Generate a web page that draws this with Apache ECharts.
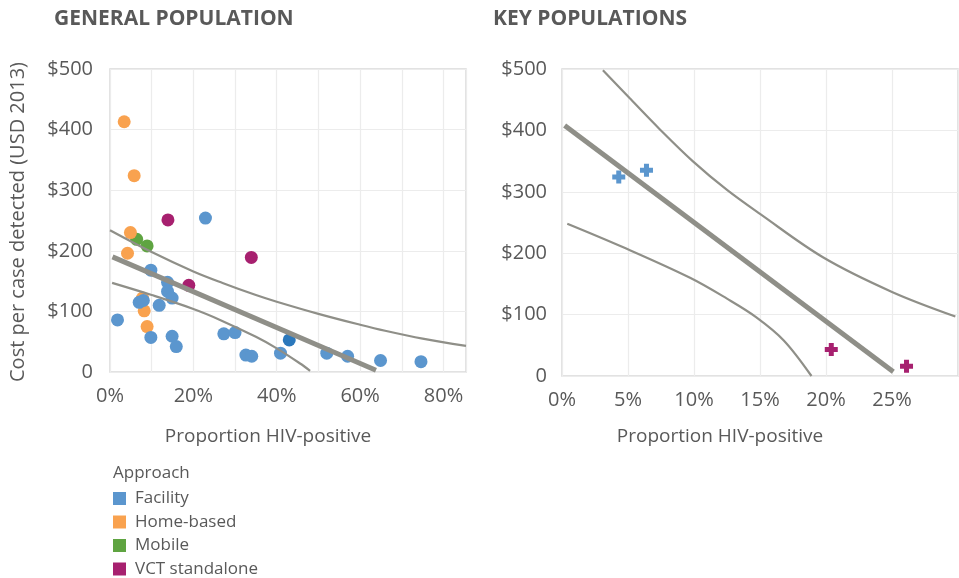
<!DOCTYPE html>
<html>
<head>
<meta charset="utf-8">
<script src="https://cdn.jsdelivr.net/npm/echarts@6/dist/echarts.min.js"></script>
<style>
html,body{margin:0;padding:0;background:#fff;}
#chart{width:959px;height:578px;}
</style>
</head>
<body>
<div id="chart"></div>
<script>
// ---------- DATA ----------
const legendNames = ['Facility', 'Home-based', 'Mobile', 'VCT standalone'];

// General population (x = % HIV-positive, y = cost USD 2013)
const genFacilityX = [1.8, 7.0, 8.0, 9.8, 11.8, 13.8, 13.8, 14.9, 9.8, 14.9, 15.9, 22.9, 27.3, 30.0, 32.6, 34.0, 40.9, 52.0, 57.0, 64.9, 74.6];
const genFacilityY = [86, 115, 118, 168, 110, 148, 133, 122, 57, 59, 42, 254, 63, 65, 28, 26, 31, 31, 26, 19, 17];
const genFacilityDarkX = [43.0];
const genFacilityDarkY = [53];
const genHomeX = [3.4, 5.8, 4.9, 4.2, 7.8, 8.2, 8.9];
const genHomeY = [413, 324, 230, 196, 122, 101, 75];
const genMobileX = [6.4, 8.9];
const genMobileY = [219, 208];
const genVctX = [13.9, 33.9, 18.9];
const genVctY = [251, 189, 143];

// General population trend line and confidence band
const genFitX = [0.6, 63.8];
const genFitY = [190, 3];
const genUpperX = [0, 10, 20, 27, 35, 40, 50, 60, 66, 75, 85.4];
const genUpperY = [234, 198, 166, 147, 127, 116, 96, 78, 68, 55, 43];
const genLowerX = [0.5, 10, 20, 26.4, 35, 40, 45.6, 48];
const genLowerY = [147, 127, 104, 86, 58, 39, 14, 2];

// Key populations
const keyFacilityX = [4.3, 6.4];
const keyFacilityY = [324, 335];
const keyVctX = [20.4, 26.1];
const keyVctY = [43, 16];
const keyFitX = [0.2, 25.1];
const keyFitY = [408, 7];
const keyUpperX = [3.1, 5.1, 7.4, 9.9, 12.5, 15.0, 19.8, 25.0, 29.8];
const keyUpperY = [498, 453, 402, 350, 303, 264, 193, 137, 97];
const keyLowerX = [0.4, 4.6, 9.7, 12.5, 14.7, 16.8, 18.9];
const keyLowerY = [248, 210, 160, 126, 96, 58, 0];

// Axis ticks
const yTicks = [0, 100, 200, 300, 400, 500];
const genXLabels = [0, 20, 40, 60, 80];
const keyXLabels = [0, 5, 10, 15, 20, 25];

// ---------- STYLE ----------
const FONT = '"Open Sans", sans-serif';
const TXT = '#595959';
const C_BLUE = '#5B96CE';
const C_BLUE_DARK = '#2B78BC';
const C_ORANGE = '#F9A24F';
const C_GREEN = '#5FA441';
const C_PURPLE = '#A7206F';
const C_LINE = '#8F8F88';
const CROSS = 'path://M4,0H9V4H13V9H9V13H4V9H0V4H4Z';

const zip = (xs, ys) => xs.map((x, i) => [x, ys[i]]);

function scatter(name, xs, ys, color, gi, symbol) {
  return {
    type: 'scatter', name: name, xAxisIndex: gi, yAxisIndex: gi,
    data: zip(xs, ys), symbol: symbol || 'circle', symbolSize: 13,
    itemStyle: { color: color, opacity: 1, borderWidth: 0 },
    emphasis: { disabled: true }, z: 3
  };
}
function line(xs, ys, width, gi, smooth) {
  return {
    type: 'line', xAxisIndex: gi, yAxisIndex: gi,
    data: zip(xs, ys), symbol: 'none', showSymbol: false,
    smooth: smooth ? 0.35 : false,
    lineStyle: { color: C_LINE, width: width, cap: 'butt' },
    silent: true, z: 4, clip: true
  };
}

const axisText = { color: TXT, fontSize: 20, fontFamily: FONT };
const gridCommon = { show: true, borderColor: '#d9d9d9', borderWidth: 1.5, containLabel: false, outerBoundsMode: 'none' };

function yAxis(gi, margin) {
  return {
    type: 'value', gridIndex: gi, min: yTicks[0], max: yTicks[yTicks.length - 1], interval: 100,
    axisLine: { show: false }, axisTick: { show: false },
    splitLine: { show: true, lineStyle: { color: '#ececec', width: 1.2 } },
    axisLabel: Object.assign({ margin: margin, formatter: v => v === 0 ? '0' : '$' + v }, axisText)
  };
}

const option = {
  animation: false,
  backgroundColor: '#ffffff',
  title: [
    { text: 'GENERAL POPULATION', left: 54, top: 9, padding: 0,
      textStyle: { fontFamily: FONT, fontWeight: 'bold', fontSize: 21, color: TXT } },
    { text: 'KEY POPULATIONS', left: 493, top: 9, padding: 0,
      textStyle: { fontFamily: FONT, fontWeight: 'bold', fontSize: 21, color: TXT } }
  ],
  grid: [
    Object.assign({ left: 110, top: 69, width: 356, height: 303 }, gridCommon),
    Object.assign({ left: 562, top: 69, width: 396, height: 307 }, gridCommon)
  ],
  xAxis: [
    { type: 'value', gridIndex: 0, min: 0, max: 85.4, interval: 10,
      axisLine: { show: false }, axisTick: { show: false },
      splitLine: { show: true, lineStyle: { color: '#ececec', width: 1.2 } },
      axisLabel: Object.assign({ margin: 14, hideOverlap: false, showMaxLabel: true,
        formatter: v => genXLabels.indexOf(Math.round(v * 10) / 10) >= 0 ? v + '%' : '' }, axisText) },
    { type: 'value', gridIndex: 1, min: 0, max: 30, interval: 5,
      axisLine: { show: false }, axisTick: { show: false },
      splitLine: { show: true, lineStyle: { color: '#ececec', width: 1.2 } },
      axisLabel: Object.assign({ margin: 14, hideOverlap: false,
        formatter: v => keyXLabels.indexOf(v) >= 0 ? v + '%' : '' }, axisText) }
  ],
  yAxis: [yAxis(0, 17), yAxis(1, 15)],
  legend: {
    data: legendNames, orient: 'vertical', left: 113, top: 490,
    itemWidth: 13, itemHeight: 13, itemGap: 6.5, icon: 'rect', padding: 0,
    selectedMode: false,
    textStyle: { color: TXT, fontSize: 17, fontFamily: FONT, lineHeight: 17, padding: [0, 0, 0, 4] }
  },
  graphic: [
    { type: 'text', x: 18, y: 222, rotation: Math.PI / 2,
      style: { text: 'Cost per case detected (USD 2013)', font: '20px ' + FONT, fill: TXT,
        align: 'center', verticalAlign: 'middle', textAlign: 'center', textVerticalAlign: 'middle' } },
    { type: 'text', x: 268, y: 437,
      style: { text: 'Proportion HIV-positive', font: '19px ' + FONT, fill: TXT,
        align: 'center', verticalAlign: 'middle', textAlign: 'center', textVerticalAlign: 'middle' } },
    { type: 'text', x: 720, y: 437,
      style: { text: 'Proportion HIV-positive', font: '19px ' + FONT, fill: TXT,
        align: 'center', verticalAlign: 'middle', textAlign: 'center', textVerticalAlign: 'middle' } },
    { type: 'text', x: 113, y: 473,
      style: { text: 'Approach', font: '17px ' + FONT, fill: TXT,
        align: 'left', verticalAlign: 'middle', textAlign: 'left', textVerticalAlign: 'middle' } }
  ],
  series: [
    scatter('Mobile', genMobileX, genMobileY, C_GREEN, 0),
    scatter('Home-based', genHomeX, genHomeY, C_ORANGE, 0),
    scatter('Facility', genFacilityX, genFacilityY, C_BLUE, 0),
    scatter('Facility', genFacilityDarkX, genFacilityDarkY, C_BLUE_DARK, 0),
    scatter('VCT standalone', genVctX, genVctY, C_PURPLE, 0),
    line(genUpperX, genUpperY, 2.2, 0, true),
    line(genLowerX, genLowerY, 2.2, 0, true),
    line(genFitX, genFitY, 5, 0, false),
    scatter('Facility', keyFacilityX, keyFacilityY, C_BLUE, 1, CROSS),
    scatter('VCT standalone', keyVctX, keyVctY, C_PURPLE, 1, CROSS),
    line(keyUpperX, keyUpperY, 2.2, 1, true),
    line(keyLowerX, keyLowerY, 2.2, 1, true),
    line(keyFitX, keyFitY, 5, 1, false)
  ]
};

const chart = echarts.init(document.getElementById('chart'), null, { renderer: 'canvas' });
chart.setOption(option);
</script>
</body>
</html>
